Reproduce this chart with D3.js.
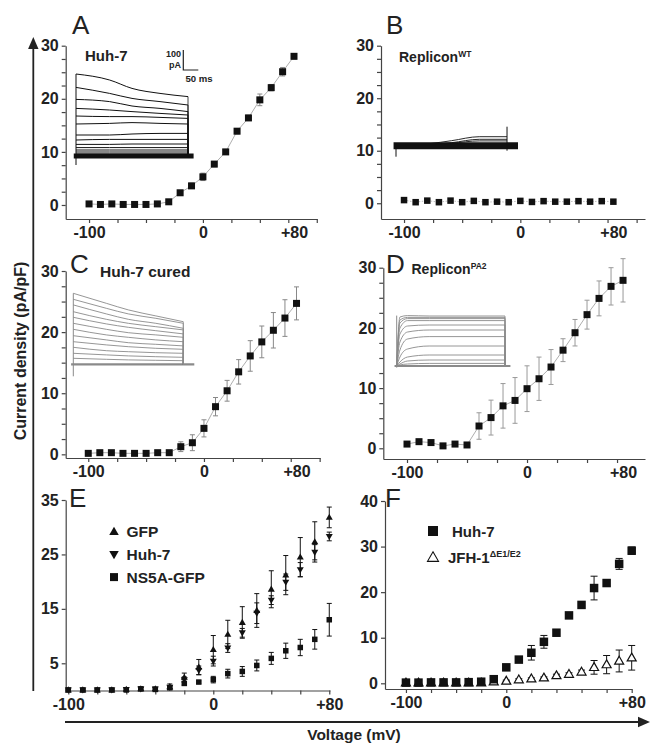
<!DOCTYPE html>
<html>
<head>
<meta charset="utf-8">
<script src="https://cdn.jsdelivr.net/npm/d3@7"></script>
<style>
  body { margin: 0; background: #fff; }
  svg { display: block; font-family: "Liberation Sans", Arial, sans-serif; }
</style>
</head>
<body>
<svg id="fig" width="650" height="743"></svg>
<script>
// step voltages (mV)
const voltages = [-100, -90, -80, -70, -60, -50, -40, -30, -20, -10, 0, 10, 20, 30, 40, 50, 60, 70, 80];

// A: Huh-7
const aMean = [0.2, 0.1, 0.2, 0.1, 0.1, 0.1, 0.2, 0.6, 2.3, 3.6, 5.3, 7.7, 10.0, 13.9, 16.4, 19.8, 22.1, 25.1, 28.0];
const aErr  = [0.2, 0.2, 0.2, 0.2, 0.2, 0.2, 0.2, 0.3, 0.4, 0.5, 0.7, 0.5, 0.4, 0.5, 0.5, 1.1, 0.6, 0.8, 0.5];
// B: Replicon WT
const bMean = [0.6, 0.2, 0.5, 0.2, 0.5, 0.2, 0.45, 0.2, 0.3, 0.2, 0.45, 0.25, 0.4, 0.3, 0.3, 0.4, 0.3, 0.4, 0.3];
const bErr  = [0.2, 0.2, 0.2, 0.2, 0.2, 0.2, 0.2, 0.2, 0.2, 0.2, 0.2, 0.2, 0.2, 0.2, 0.2, 0.2, 0.2, 0.2, 0.2];
// C: Huh-7 cured
const cMean = [0.16, 0.27, 0.27, 0.16, 0.16, 0.16, 0.27, 0.27, 1.25, 1.9, 4.25, 7.8, 10.4, 13.5, 16.1, 18.4, 20.3, 22.3, 24.7];
const cErr  = [0.1, 0.1, 0.1, 0.1, 0.1, 0.1, 0.1, 0.2, 0.8, 1.3, 1.4, 1.5, 1.7, 2.0, 2.5, 2.6, 2.9, 3.0, 2.7];
// D: Replicon PA2
const dMean = [0.7, 1.1, 0.95, 0.4, 0.7, 0.55, 3.7, 5.1, 7.05, 7.95, 9.9, 11.55, 13.5, 16.3, 19.2, 22.2, 24.9, 26.9, 27.9];
const dErr  = [0.1, 0.1, 0.1, 0.1, 0.1, 0.1, 2.2, 2.9, 3.7, 3.8, 3.8, 3.6, 2.9, 1.9, 2.2, 2.4, 2.9, 3.1, 3.6];
// E: GFP / Huh-7 / NS5A-GFP
const eGfp     = [0.1, 0.1, 0.1, 0.1, 0.2, 0.3, 0.3, 0.7, 2.4, 4.3, 7.5, 10.3, 12.5, 14.7, 18.6, 21.2, 24.5, 27.3, 31.8];
const eGfpErr  = [0.1, 0.1, 0.1, 0.1, 0.2, 0.3, 0.3, 0.5, 0.8, 1.4, 2.6, 2.6, 2.9, 3.1, 3.4, 3.6, 3.6, 3.7, 1.9];
const eHuh     = [0.1, 0.1, 0.1, 0.1, 0.2, 0.3, 0.3, 0.6, 2.0, 3.7, 5.4, 7.8, 10.6, 14.2, 16.6, 19.9, 22.2, 25.4, 28.3];
const eHuhErr  = [0.1, 0.1, 0.1, 0.1, 0.1, 0.2, 0.2, 0.3, 0.5, 0.8, 0.9, 0.8, 0.8, 1.9, 0.8, 1.5, 1.3, 1.4, 0.8];
const eNs5a    = [0.1, 0.1, 0.1, 0.1, 0.1, 0.3, 0.2, 0.5, 1.3, 1.55, 2.0, 3.1, 3.5, 4.6, 5.9, 7.3, 7.9, 9.4, 13.0];
const eNs5aErr = [0.1, 0.1, 0.1, 0.1, 0.1, 0.2, 0.2, 0.3, 0.3, 0.2, 0.6, 0.8, 0.9, 1.0, 1.1, 1.4, 1.5, 1.8, 3.0];
// F: Huh-7 / JFH-1 dE1/E2
const fHuh    = [0.15, 0.15, 0.2, 0.2, 0.2, 0.25, 0.35, 0.9, 3.5, 5.2, 6.7, 9.1, 11.1, 14.9, 17.2, 20.9, 22.0, 26.2, 29.1];
const fHuhErr = [0.1, 0.1, 0.1, 0.1, 0.1, 0.1, 0.1, 0.3, 0.3, 0.4, 1.6, 1.4, 0.6, 0.5, 0.6, 2.6, 0.6, 1.2, 0.8];
const fJfh    = [0.1, 0.1, 0.1, 0.1, 0.1, 0.1, 0.1, 0.35, 0.5, 0.8, 1.0, 1.2, 1.7, 2.0, 2.5, 3.5, 4.1, 4.9, 5.6];
const fJfhErr = [0.1, 0.1, 0.1, 0.1, 0.1, 0.1, 0.1, 0.2, 0.2, 0.2, 0.2, 0.2, 0.3, 0.3, 0.4, 1.5, 2.0, 2.4, 2.7];

// inset current traces (pA) sampled at fractions of the sweep
const traceTimes = [0, 0.3, 0.5, 0.75, 1];
const tracesA = [
  [410, 380, 338, 313, 297], [343, 313, 288, 272, 255], [283, 272, 250, 238, 222],
  [238, 230, 222, 213, 205], [200, 197, 197, 193, 188], [160, 163, 167, 163, 160],
  [105, 105, 110, 113, 113], [80, 83, 83, 83, 83], [58, 58, 60, 60, 60],
  [42, 42, 42, 42, 42], [30, 30, 30, 30, 30], [20, 20, 20, 20, 20], [10, 10, 10, 10, 10]
];
const tracesB = [[0, 10, 25, 45, 45], [0, 5, 15, 32, 32], [0, 3, 12, 24, 24]];
const tracesC = [
  [355, 305, 272, 242, 213], [325, 280, 252, 230, 205], [297, 252, 225, 205, 180],
  [263, 225, 205, 188, 172], [235, 202, 185, 168, 152], [205, 175, 158, 147, 135],
  [175, 147, 135, 122, 113], [143, 122, 108, 100, 92], [113, 97, 88, 80, 75],
  [85, 68, 63, 58, 55], [55, 47, 42, 38, 35], [30, 25, 22, 20, 18]
];
const traceTimesD = [0, 0.03, 0.1, 0.3, 1];
const tracesD = [
  [0, 245, 252, 250, 250], [0, 230, 243, 243, 243], [0, 215, 237, 237, 237],
  [0, 190, 227, 227, 227], [0, 160, 200, 205, 205], [0, 120, 170, 180, 180],
  [0, 80, 135, 147, 147], [0, 45, 85, 100, 100], [0, 20, 45, 55, 55],
  [0, 10, 25, 30, 30], [0, 5, 10, 13, 13]
];

const svg = d3.select("#fig");
const INK = "#222";

function triPath(cx, cy, w, up) {
  const h = w * 0.87;
  if (up) return `M${cx},${cy - h * 0.6}L${cx + w / 2},${cy + h * 0.4}L${cx - w / 2},${cy + h * 0.4}Z`;
  return `M${cx},${cy + h * 0.6}L${cx + w / 2},${cy - h * 0.4}L${cx - w / 2},${cy - h * 0.4}Z`;
}

function drawMarkers(g, x, y, vals, shape, size, fill, stroke) {
  vals.forEach((v, i) => {
    const cx = x(voltages[i]), cy = y(v);
    if (shape === "square") {
      g.append("rect").attr("x", cx - size / 2).attr("y", cy - size / 2)
        .attr("width", size).attr("height", size).attr("fill", fill);
    } else {
      g.append("path").attr("d", triPath(cx, cy, size, shape === "up"))
        .attr("fill", fill).attr("stroke", stroke || "none").attr("stroke-width", 1.2);
    }
  });
}

function drawErrors(g, x, y, vals, errs, color, cap) {
  vals.forEach((v, i) => {
    const cx = x(voltages[i]);
    const y0 = y(v - errs[i]), y1 = y(v + errs[i]);
    g.append("line").attr("x1", cx).attr("x2", cx).attr("y1", y0).attr("y2", y1)
      .attr("stroke", color).attr("stroke-width", 1);
    [y0, y1].forEach(yy => g.append("line").attr("x1", cx - cap / 2).attr("x2", cx + cap / 2)
      .attr("y1", yy).attr("y2", yy).attr("stroke", color).attr("stroke-width", 1));
  });
}

function drawAxes(p) {
  const g = svg.append("g");
  const x = d3.scaleLinear().domain(p.xDomain).range(p.xRange);
  const y = d3.scaleLinear().domain(p.yDomain).range(p.yRange);
  const xBase = p.yRange[0];
  const yBase = p.xRange[0];

  // tick marks
  const gx = g.append("g").attr("transform", `translate(0,${xBase})`)
    .call(d3.axisBottom(x).tickValues(p.xTicks).tickFormat("").tickSize(4).tickSizeOuter(0));
  const gy = g.append("g").attr("transform", `translate(${yBase},0)`)
    .call(d3.axisLeft(y).tickValues(p.yTicks).tickFormat("").tickSize(4).tickSizeOuter(0));
  [gx, gy].forEach(a => {
    a.selectAll("path,line").attr("stroke", "#444").attr("stroke-width", 1.2);
  });

  // tick labels
  const lx = g.append("g").attr("transform", `translate(0,${xBase})`)
    .call(d3.axisBottom(x).tickValues(p.xLabels.map(d => d[0])).tickFormat((d, i) => p.xLabels[i][1])
      .tickSize(0).tickPadding(8));
  const ly = g.append("g").attr("transform", `translate(${yBase},0)`)
    .call(d3.axisLeft(y).tickValues(p.yLabels).tickSize(0).tickPadding(7));
  [lx, ly].forEach(a => {
    a.select(".domain").remove();
    a.selectAll("text").attr("font-family", "Liberation Sans, Arial, sans-serif")
      .attr("font-size", 16).attr("font-weight", "bold").attr("fill", INK);
  });

  // panel letter
  g.append("text").attr("x", p.letterPos[0]).attr("y", p.letterPos[1])
    .attr("font-size", 26).attr("fill", INK).text(p.letter);
  return { g, x, y };
}

function drawInset(ins, traces, times) {
  const g = svg.append("g");
  const x = d3.scaleLinear().domain([0, 1]).range([ins.x0, ins.x1]);
  const y = d3.scaleLinear().domain([0, 100]).range([ins.base, ins.base - 20]); // 100 pA = 20 px
  const line = d3.line().x(d => x(d[0])).y(d => y(d[1])).curve(d3.curveMonotoneX);
  // baseline (many overlapping sweeps)
  g.append("line").attr("x1", x(-0.02)).attr("x2", x(ins.baseEnd)).attr("y1", y(0)).attr("y2", y(0))
    .attr("stroke", ins.color).attr("stroke-width", ins.baseWidth);
  // capacitive transient edge
  if (ins.edge) {
    g.append("line").attr("x1", x(0)).attr("x2", x(0)).attr("y1", y(ins.edge[0])).attr("y2", y(ins.edge[1]))
      .attr("stroke", ins.color).attr("stroke-width", 1);
  }
  traces.forEach(tr => {
    const pts = times.map((t, i) => [t * ins.span, tr[i]]);
    g.append("path").attr("d", line(pts)).attr("fill", "none")
      .attr("stroke", ins.color).attr("stroke-width", ins.width);
    if (ins.endDrop) {
      g.append("line").attr("x1", x(ins.span)).attr("x2", x(ins.span))
        .attr("y1", y(tr[tr.length - 1])).attr("y2", y(0))
        .attr("stroke", ins.color).attr("stroke-width", 0.8);
    }
  });
  return { g, x, y };
}

// ---------- Panel A ----------
const pA = drawAxes({
  letter: "A", letterPos: [72, 34],
  xDomain: [-120.5, 100.2], xRange: [65.7, 317],
  yDomain: [-2.64, 30], yRange: [219, 45.7],
  xTicks: [-100, -75, -50, -25, 0, 25, 50, 75, 100],
  xLabels: [[-100, "-100"], [0, "0"], [80, "+80"]],
  yTicks: [0, 2.5, 5, 7.5, 10, 12.5, 15, 17.5, 20, 22.5, 25, 27.5, 30],
  yLabels: [0, 10, 20, 30]
});
drawInset({ x0: 76, x1: 188, base: 156, color: "#111", width: 1, baseWidth: 5, baseEnd: 1.05,
  span: 1, edge: [-45, 410], endDrop: true }, tracesA, traceTimes);
pA.g.append("path").attr("d", d3.line().x((d, i) => pA.x(voltages[i])).y(d => pA.y(d))(aMean))
  .attr("fill", "none").attr("stroke", "#999").attr("stroke-width", 0.8);
drawErrors(pA.g, pA.x, pA.y, aMean, aErr, "#888", 5);
drawMarkers(pA.g, pA.x, pA.y, aMean, "square", 7, "#111");
// scale bar
svg.append("path").attr("d", "M183.3,50V70H198.3").attr("fill", "none").attr("stroke", INK).attr("stroke-width", 1.2);
svg.append("text").attr("x", 181).attr("y", 57).attr("text-anchor", "end").attr("font-size", 9)
  .attr("font-weight", "bold").attr("fill", INK).text("100");
svg.append("text").attr("x", 181).attr("y", 68).attr("text-anchor", "end").attr("font-size", 9)
  .attr("font-weight", "bold").attr("fill", INK).text("pA");
svg.append("text").attr("x", 185.5).attr("y", 82).attr("font-size", 9.6)
  .attr("font-weight", "bold").attr("fill", INK).text("50 ms");
svg.append("text").attr("x", 85).attr("y", 61).attr("font-size", 15).attr("font-weight", "bold")
  .attr("fill", INK).text("Huh-7");

// ---------- Panel B ----------
const pB = drawAxes({
  letter: "B", letterPos: [386, 34],
  xDomain: [-119.8, 107.2], xRange: [381, 645],
  yDomain: [-3, 30], yRange: [219, 45.7],
  xTicks: [-100, -75, -50, -25, 0, 25, 50, 75, 100],
  xLabels: [[-100, "-100"], [0, "0"], [80, "+80"]],
  yTicks: [0, 2.5, 5, 7.5, 10, 12.5, 15, 17.5, 20, 22.5, 25, 27.5, 30],
  yLabels: [0, 10, 20, 30]
});
const insB = drawInset({ x0: 396, x1: 518, base: 145.7, color: "#111", width: 0.9, baseWidth: 7, baseEnd: 1,
  span: 0.91, edge: [-55, 10], endDrop: false }, tracesB, traceTimes);
insB.g.append("line").attr("x1", insB.x(0.91)).attr("x2", insB.x(0.91))
  .attr("y1", insB.y(-25)).attr("y2", insB.y(95)).attr("stroke", "#111").attr("stroke-width", 1);
pB.g.append("path").attr("d", d3.line().x((d, i) => pB.x(voltages[i])).y(d => pB.y(d))(bMean))
  .attr("fill", "none").attr("stroke", "#aaa").attr("stroke-width", 0.8).attr("stroke-dasharray", "1.5,1.5");
drawErrors(pB.g, pB.x, pB.y, bMean, bErr, "#888", 4);
drawMarkers(pB.g, pB.x, pB.y, bMean, "square", 6.5, "#111");
const tB = svg.append("text").attr("x", 399).attr("y", 62).attr("font-size", 14)
  .attr("font-weight", "bold").attr("fill", INK);
tB.append("tspan").text("Replicon");
tB.append("tspan").attr("font-size", 8.5).attr("dy", -5).text("WT");

// ---------- Panel C ----------
const pC = drawAxes({
  letter: "C", letterPos: [70, 273],
  xDomain: [-119.5, 100.3], xRange: [65.7, 320],
  yDomain: [-0.6, 30], yRange: [458, 271],
  xTicks: [-100, -75, -50, -25, 0, 25, 50, 75, 100],
  xLabels: [[-100, "-100"], [0, "0"], [80, "+80"]],
  yTicks: [0, 2.5, 5, 7.5, 10, 12.5, 15, 17.5, 20, 22.5, 25, 27.5, 30],
  yLabels: [0, 10, 20, 30]
});
drawInset({ x0: 73.3, x1: 183.3, base: 364.3, color: "#8a8a8a", width: 0.9, baseWidth: 2.2, baseEnd: 1.1,
  span: 1, edge: [-60, 355], endDrop: true }, tracesC, traceTimes);
pC.g.append("path").attr("d", d3.line().x((d, i) => pC.x(voltages[i])).y(d => pC.y(d))(cMean))
  .attr("fill", "none").attr("stroke", "#999").attr("stroke-width", 0.8);
drawErrors(pC.g, pC.x, pC.y, cMean, cErr, "#888", 5);
drawMarkers(pC.g, pC.x, pC.y, cMean, "square", 7, "#111");
svg.append("text").attr("x", 100).attr("y", 276.5).attr("font-size", 15.5).attr("font-weight", "bold")
  .attr("fill", INK).text("Huh-7 cured");

// ---------- Panel D ----------
const pD = drawAxes({
  letter: "D", letterPos: [386, 273],
  xDomain: [-119.75, 98.3], xRange: [383.3, 645],
  yDomain: [-1.78, 30], yRange: [459, 267.7],
  xTicks: [-100, -75, -50, -25, 0, 25, 50, 75],
  xLabels: [[-100, "-100"], [0, "0"], [80, "+80"]],
  yTicks: [0, 2.5, 5, 7.5, 10, 12.5, 15, 17.5, 20, 22.5, 25, 27.5, 30],
  yLabels: [0, 10, 20, 30]
});
drawInset({ x0: 396.7, x1: 505, base: 366, color: "#8a8a8a", width: 0.9, baseWidth: 2.2, baseEnd: 1.05,
  span: 1, edge: [-8, 252], endDrop: true }, tracesD, traceTimesD);
pD.g.append("path").attr("d", d3.line().x((d, i) => pD.x(voltages[i])).y(d => pD.y(d))(dMean))
  .attr("fill", "none").attr("stroke", "#999").attr("stroke-width", 0.8);
drawErrors(pD.g, pD.x, pD.y, dMean, dErr, "#999", 5);
drawMarkers(pD.g, pD.x, pD.y, dMean, "square", 7, "#111");
const tD = svg.append("text").attr("x", 411.5).attr("y", 274).attr("font-size", 14)
  .attr("font-weight", "bold").attr("fill", INK);
tD.append("tspan").text("Replicon");
tD.append("tspan").attr("font-size", 8.5).attr("dy", -5).text("PA2");

// ---------- Panel E ----------
const pE = drawAxes({
  letter: "E", letterPos: [69, 507],
  xDomain: [-101.8, 80.5], xRange: [65.7, 330],
  yDomain: [0, 35], yRange: [690.5, 500],
  xTicks: [-100, -80, -60, -40, -20, 0, 20, 40, 60, 80],
  xLabels: [[-100, "-100"], [0, "0"], [80, "+80"]],
  yTicks: [5, 15, 25, 35],
  yLabels: [5, 15, 25, 35]
});
drawErrors(pE.g, pE.x, pE.y, eNs5a, eNs5aErr, "#111", 5);
drawErrors(pE.g, pE.x, pE.y, eHuh, eHuhErr, "#111", 5);
drawErrors(pE.g, pE.x, pE.y, eGfp, eGfpErr, "#111", 5);
drawMarkers(pE.g, pE.x, pE.y, eNs5a, "square", 5.5, "#111");
drawMarkers(pE.g, pE.x, pE.y, eHuh, "down", 7, "#111");
drawMarkers(pE.g, pE.x, pE.y, eGfp, "up", 7, "#111");
const legE = [["up", "GFP"], ["down", "Huh-7"], ["square", "NS5A-GFP"]];
legE.forEach((d, i) => {
  const cy = 531.7 + i * 22.7;
  if (d[0] === "square") {
    svg.append("rect").attr("x", 114 - 4).attr("y", cy - 4).attr("width", 8).attr("height", 8).attr("fill", "#111");
  } else {
    svg.append("path").attr("d", triPath(114, cy, 9.5, d[0] === "up")).attr("fill", "#111");
  }
  svg.append("text").attr("x", 126.5).attr("y", cy + 5.5).attr("font-size", 15.5)
    .attr("font-weight", "bold").attr("fill", INK).text(d[1]);
});

// ---------- Panel F ----------
const pF = drawAxes({
  letter: "F", letterPos: [385, 507],
  xDomain: [-116.7, 80], xRange: [385, 631.7],
  yDomain: [-1.25, 40], yRange: [689, 501],
  xTicks: [-100, -80, -60, -40, -20, 0, 20, 40, 60, 80],
  xLabels: [[-100, "-100"], [-20, "0"], [80, "+80"]],
  yTicks: [0, 10, 20, 30, 40],
  yLabels: [0, 10, 20, 30, 40]
});
drawErrors(pF.g, pF.x, pF.y, fJfh, fJfhErr, "#111", 7);
drawMarkers(pF.g, pF.x, pF.y, fJfh, "up", 9, "#fff", "#111");
drawErrors(pF.g, pF.x, pF.y, fHuh, fHuhErr, "#111", 7);
drawMarkers(pF.g, pF.x, pF.y, fHuh, "square", 8.5, "#111");
svg.append("rect").attr("x", 428).attr("y", 526).attr("width", 10).attr("height", 10).attr("fill", "#111");
svg.append("path").attr("d", triPath(433, 557.5, 11, true)).attr("fill", "#fff")
  .attr("stroke", "#111").attr("stroke-width", 1.1);
svg.append("text").attr("x", 452).attr("y", 536.5).attr("font-size", 15)
  .attr("font-weight", "bold").attr("fill", INK).text("Huh-7");
const tF = svg.append("text").attr("x", 448).attr("y", 562.5).attr("font-size", 15)
  .attr("font-weight", "bold").attr("fill", INK);
tF.append("tspan").text("JFH-1");
tF.append("tspan").attr("font-size", 9).attr("dy", -6).text("\u0394E1/E2");

// ---------- shared axes ----------
svg.append("line").attr("x1", 33.3).attr("x2", 33.3).attr("y1", 691).attr("y2", 46)
  .attr("stroke", INK).attr("stroke-width", 1.8);
svg.append("path").attr("d", "M33.3,37L38.5,49H28.1Z").attr("fill", INK);
svg.append("line").attr("x1", 65).attr("x2", 641).attr("y1", 722).attr("y2", 722)
  .attr("stroke", INK).attr("stroke-width", 1.8);
svg.append("path").attr("d", "M650,722L638,716.8V727.2Z").attr("fill", INK);
svg.append("text").attr("transform", "translate(26,351) rotate(-90)").attr("text-anchor", "middle")
  .attr("font-size", 16).attr("font-weight", "bold").attr("fill", INK).text("Current density (pA/pF)");
svg.append("text").attr("x", 354).attr("y", 740).attr("text-anchor", "middle")
  .attr("font-size", 15.5).attr("font-weight", "bold").attr("fill", INK).text("Voltage (mV)");
</script>
</body>
</html>
